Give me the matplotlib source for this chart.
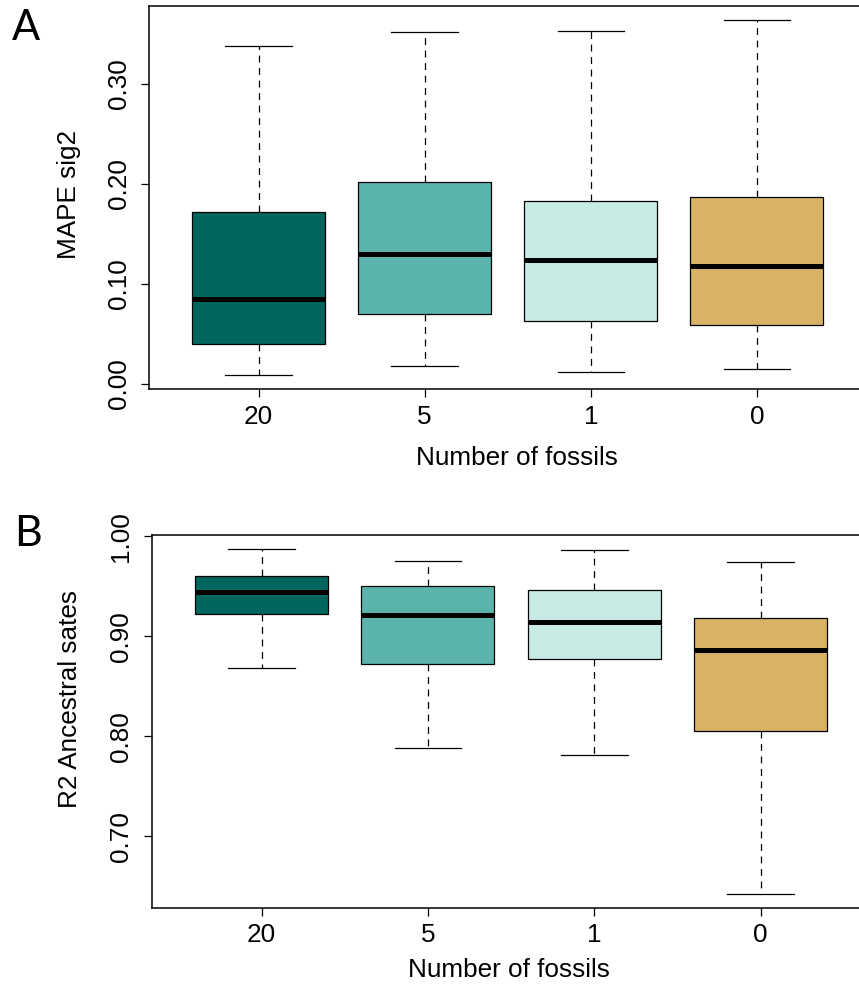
import matplotlib
matplotlib.use("Agg")
import matplotlib.pyplot as plt

# Groups (number of fossils) and box colours
categories = ["20", "5", "1", "0"]
colors = ["#01665e", "#5ab4ac", "#c7eae5", "#d8b365"]

# Panel A: MAPE sig2 five-number summaries (whisker low, Q1, median, Q3, whisker high)
mape_whislo = [0.009, 0.0177, 0.0117, 0.0153]
mape_q1 = [0.0397, 0.0703, 0.063, 0.0587]
mape_med = [0.0853, 0.130, 0.124, 0.1177]
mape_q3 = [0.172, 0.2023, 0.1827, 0.1873]
mape_whishi = [0.338, 0.352, 0.3527, 0.3637]
mape_ticks = [0.0, 0.1, 0.2, 0.3]
mape_ticklabels = ["0.00", "0.10", "0.20", "0.30"]

# Panel B: R2 of ancestral states
r2_whislo = [0.868, 0.788, 0.7814, 0.6424]
r2_q1 = [0.922, 0.8727, 0.8774, 0.805]
r2_med = [0.9447, 0.921, 0.9144, 0.8867]
r2_q3 = [0.960, 0.9504, 0.946, 0.918]
r2_whishi = [0.9877, 0.9757, 0.9864, 0.9744]
r2_ticks = [0.7, 0.8, 0.9, 1.0]
r2_ticklabels = ["0.70", "0.80", "0.90", "1.00"]

FONT = "Liberation Sans"
FS = 18.8

W, H = 859, 989
fig = plt.figure(figsize=(W / 100, H / 100), dpi=100)


def px_axes(left, top, right, bottom):
    return fig.add_axes([left / W, 1 - bottom / H, (right - left) / W, (bottom - top) / H])


def draw_panel(ax, lo, q1, med, q3, hi, ticks, ticklabels, ylabel,
               ylab_xy, xlab_xy):
    stats = []
    for i, c in enumerate(categories):
        stats.append(dict(label=c, whislo=lo[i], q1=q1[i], med=med[i],
                          q3=q3[i], whishi=hi[i], fliers=[]))
    pos = list(range(1, len(categories) + 1))
    bp = ax.bxp(stats, positions=pos, widths=0.8, capwidths=0.4,
                patch_artist=True, showfliers=False,
                boxprops=dict(edgecolor="black", linewidth=0.9),
                medianprops=dict(color="black", linewidth=3.6,
                                 solid_capstyle="butt"),
                whiskerprops=dict(color="black", linewidth=0.9,
                                  linestyle=(0, (5.5, 4.5))),
                capprops=dict(color="black", linewidth=0.9))
    for patch, col in zip(bp["boxes"], colors):
        patch.set_facecolor(col)
    for m in bp["medians"]:
        m.set_zorder(3)

    ymin, ymax = min(lo), max(hi)
    pad = 0.04 * (ymax - ymin)
    ax.set_ylim(ymin - pad, ymax + pad)
    ax.set_xlim(0.34, len(categories) + 0.66)

    ax.set_xticks(pos)
    ax.set_xticklabels(categories, fontsize=FS, family=FONT)
    ax.set_yticks(ticks)
    ax.set_yticklabels(ticklabels, fontsize=FS, family=FONT,
                       rotation=90, va="center")
    ax.tick_params(axis="both", direction="out", length=5.8, width=0.9,
                   color="black")
    ax.tick_params(axis="x", pad=5.5)
    ax.tick_params(axis="y", pad=7.5)
    for sp in ax.spines.values():
        sp.set_linewidth(1.1)

    ax.set_ylabel(ylabel, fontsize=FS, family=FONT)
    ax.yaxis.label.set(va="center", ha="center", rotation_mode="default")
    ax.yaxis.set_label_coords(ylab_xy[0] / W, 1 - ylab_xy[1] / H,
                              transform=fig.transFigure)
    ax.set_xlabel("Number of fossils", fontsize=FS, family=FONT)
    ax.xaxis.label.set(va="center", ha="center")
    ax.xaxis.set_label_coords(xlab_xy[0] / W, 1 - xlab_xy[1] / H,
                              transform=fig.transFigure)


ax_a = px_axes(149, 6, 866.5, 389)
draw_panel(ax_a, mape_whislo, mape_q1, mape_med, mape_q3, mape_whishi,
           mape_ticks, mape_ticklabels, "MAPE sig2", (69, 194), (517, 458))

ax_b = px_axes(151.7, 534.7, 870.5, 907.7)
draw_panel(ax_b, r2_whislo, r2_q1, r2_med, r2_q3, r2_whishi,
           r2_ticks, r2_ticklabels, "R2 Ancestral sates", (70, 699), (509, 970))

fig.text(12 / W, 1 - 28 / H, "A", fontsize=30, family="Lato",
         ha="left", va="center")
fig.text(14 / W, 1 - 534 / H, "B", fontsize=31, family="Lato",
         ha="left", va="center")

fig.savefig("out.png", dpi=100)
